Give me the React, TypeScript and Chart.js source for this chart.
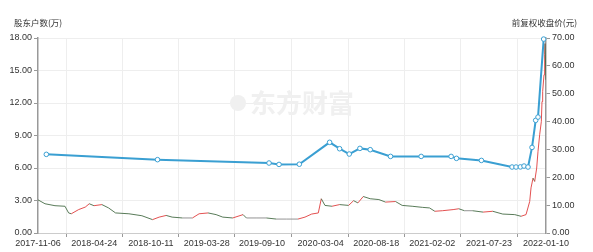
import React, { useEffect, useRef } from "react";
import { Chart, registerables } from "chart.js";
Chart.register(...registerables);

const xLabels = [
  "2017-11-06", "2018-04-24", "2018-10-11", "2019-03-28", "2019-09-10",
  "2020-03-04", "2020-08-18", "2021-02-02", "2021-07-23", "2022-01-10",
];

const holderDates = [
  "2017-12-01", "2018-10-31", "2019-10-01", "2019-10-31", "2019-12-31",
  "2020-03-31", "2020-04-30", "2020-05-29", "2020-06-30", "2020-07-31",
  "2020-09-30", "2020-12-31", "2021-03-31", "2021-04-16", "2021-06-30",
  "2021-09-30", "2021-10-12", "2021-10-25", "2021-11-05", "2021-11-17",
  "2021-11-29", "2021-12-10", "2021-12-17", "2022-01-03",
];
const holderValues = [
  7.26, 6.77, 6.46, 6.33, 6.35,
  8.37, 7.78, 7.29, 7.81, 7.69,
  7.07, 7.07, 7.07, 6.89, 6.7,
  6.09, 6.09, 6.1, 6.18, 6.09,
  7.9, 10.4, 10.7, 17.9,
];

const priceDates = [
  "2017-11-06", "2017-11-27", "2017-12-27", "2018-01-26", "2018-02-06",
  "2018-02-14", "2018-03-08", "2018-03-28", "2018-04-09", "2018-04-23",
  "2018-05-17", "2018-06-06", "2018-06-27", "2018-08-06", "2018-09-14",
  "2018-10-16", "2018-11-05", "2018-11-26", "2018-12-14", "2019-01-14",
  "2019-02-13", "2019-03-05", "2019-04-01", "2019-04-25", "2019-05-15",
  "2019-06-14", "2019-07-15", "2019-07-25", "2019-08-23", "2019-09-23",
  "2019-10-23", "2019-11-22", "2019-12-27", "2020-01-17", "2020-02-06",
  "2020-02-26", "2020-03-06", "2020-03-17", "2020-04-07", "2020-04-30",
  "2020-05-27", "2020-06-11", "2020-06-24", "2020-07-10", "2020-07-31",
  "2020-08-26", "2020-09-15", "2020-10-15", "2020-11-04", "2020-12-04",
  "2021-01-04", "2021-01-25", "2021-02-10", "2021-03-05", "2021-04-06",
  "2021-04-23", "2021-05-10", "2021-06-03", "2021-07-05", "2021-08-03",
  "2021-09-02", "2021-10-08", "2021-10-27", "2021-11-11", "2021-11-22",
  "2021-11-26", "2021-12-02", "2021-12-07", "2021-12-13", "2021-12-17",
  "2021-12-22", "2021-12-27", "2021-12-29", "2021-12-31", "2022-01-04",
  "2022-01-06", "2022-01-07", "2022-01-10",
];
const priceValues = [
  11.9, 10.5, 9.8, 9.6, 7.2,
  6.9, 8.4, 9.3, 10.5, 9.8,
  10.2, 9.0, 7.2, 6.9, 6.2,
  4.8, 5.7, 6.3, 5.7, 5.4,
  5.4, 6.9, 7.2, 6.6, 5.7,
  5.4, 6.6, 5.4, 5.4, 5.4,
  5.0, 5.0, 5.0, 5.7, 6.8,
  7.2, 12.3, 9.9, 9.6, 10.2,
  9.9, 11.6, 10.8, 13.1, 12.3,
  12.0, 11.1, 11.3, 9.9, 9.6,
  9.2, 9.0, 7.8, 8.0, 8.4,
  8.7, 8.0, 8.0, 7.5, 7.8,
  6.8, 6.6, 6.0, 6.6, 11.3,
  16.2, 19.7, 18.5, 23.3, 29.3,
  35.3, 40.0, 47.2, 50.8, 56.8,
  64.0, 68.0, 55.0,
];

const leftTitle = "股东户数(万)";
const rightTitle = "前复权收盘价(元)";
const watermark = "东方财富";

const DAY = 86400000;
const START = Date.parse(xLabels[0]);
const dayOf = (s: string) => Math.round((Date.parse(s) - START) / DAY);
const labelDays = xLabels.map(dayOf);
const FONT = '"Liberation Sans", "Noto Sans CJK SC", sans-serif';

const isLabelDay = (v: number) => labelDays.some((d) => Math.abs(d - v) < 0.01);

export default function App() {
  const ref = useRef<HTMLCanvasElement | null>(null);
  useEffect(() => {
    if (!ref.current) return;
    const overlay = {
      id: "overlay",
      beforeDatasetsDraw(chart: any) {
        const { ctx, chartArea } = chart;
        ctx.save();
        ctx.fillStyle = "#f0f0f0";
        ctx.font = 'bold 26px "Noto Sans CJK SC", sans-serif';
        ctx.textAlign = "left";
        ctx.textBaseline = "middle";
        const cx = chartArea.left + 212;
        ctx.fillText(watermark, cx, 103);
        ctx.beginPath();
        ctx.arc(cx - 12, 103, 8, 0, Math.PI * 2);
        ctx.fill();
        ctx.restore();
      },
      afterDraw(chart: any) {
        const { ctx } = chart;
        ctx.save();
        ctx.fillStyle = "#333";
        ctx.font = '8.5px "Noto Sans CJK SC", sans-serif';
        ctx.textBaseline = "middle";
        ctx.textAlign = "left";
        ctx.fillText(leftTitle, 14, 23);
        ctx.textAlign = "right";
        ctx.fillText(rightTitle, 577, 23);
        ctx.restore();
      },
    };

    const chart = new Chart(ref.current, {
      type: "line",
      data: {
        datasets: [
          {
            label: leftTitle,
            data: holderDates.map((d, i) => ({ x: dayOf(d), y: holderValues[i] })),
            yAxisID: "y",
            borderColor: "#3a9fd2",
            borderWidth: 2,
            pointRadius: 2.3,
            pointBorderWidth: 1,
            pointBackgroundColor: "#ffffff",
            pointBorderColor: "#3a9fd2",
            tension: 0,
            clip: false as any,
            order: 0,
          },
          {
            label: rightTitle,
            data: priceDates.map((d, i) => ({ x: dayOf(d), y: priceValues[i] })),
            yAxisID: "y1",
            borderColor: "#557755",
            borderWidth: 1,
            pointRadius: 0,
            tension: 0,
            order: 1,
            segment: {
              borderColor: (c: any) =>
                c.p1.parsed.y > c.p0.parsed.y
                  ? "rgba(222,50,50,0.85)"
                  : c.p1.parsed.y < c.p0.parsed.y
                  ? "rgba(60,100,60,0.85)"
                  : "rgba(120,120,120,0.8)",
            },
          },
        ],
      },
      options: {
        animation: false,
        responsive: false,
        maintainAspectRatio: false,
        layout: { padding: { top: 38, left: 0, right: 0, bottom: 0 } },
        plugins: { legend: { display: false }, tooltip: { enabled: false } },
        scales: {
          x: {
            type: "linear",
            min: 0,
            max: labelDays[labelDays.length - 1],
            afterBuildTicks: (scale: any) => {
              const t: any[] = [];
              labelDays.forEach((d, i) => {
                t.push({ value: d });
                if (i < labelDays.length - 1) t.push({ value: (d + labelDays[i + 1]) / 2 });
              });
              scale.ticks = t;
            },
            afterFit: (scale: any) => {
              scale.height = 19;
            },
            ticks: {
              autoSkip: false,
              maxRotation: 0,
              minRotation: 0,
              padding: 1,
              color: "#333",
              font: { family: FONT, size: 9 },
              callback: (v: any) => {
                const i = labelDays.findIndex((d) => Math.abs(d - v) < 0.01);
                return i >= 0 ? xLabels[i] : "";
              },
            },
            grid: {
              color: (c: any) => (c.tick && isLabelDay(c.tick.value) ? "rgba(0,0,0,0)" : "#eeeeee"),
              tickColor: (c: any) => (c.tick && isLabelDay(c.tick.value) ? "rgba(0,0,0,0)" : "#999999"),
              tickLength: 4,
              lineWidth: 1,
            },
            border: { display: true, color: "#cccccc", width: 1 },
          },
          y: {
            type: "linear",
            position: "left",
            min: 0,
            max: 18,
            afterFit: (scale: any) => {
              scale.width = 38;
            },
            ticks: {
              stepSize: 3,
              padding: 2,
              color: "#333",
              font: { family: FONT, size: 9 },
              callback: (v: any) => Number(v).toFixed(2),
            },
            grid: { color: "#eeeeee", tickColor: "#999999", tickLength: 4 },
            border: { display: true, color: "#999999", width: 1.5 },
          },
          y1: {
            type: "linear",
            position: "right",
            min: 0,
            max: 70,
            afterFit: (scale: any) => {
              scale.width = 47;
            },
            ticks: {
              stepSize: 10,
              padding: 2,
              color: "#333",
              font: { family: FONT, size: 9 },
              callback: (v: any) => Number(v).toFixed(2),
            },
            grid: { drawOnChartArea: false, tickColor: "#999999", tickLength: 4 },
            border: { display: true, color: "#999999", width: 1.5 },
          },
        },
      } as any,
      plugins: [overlay],
    });
    return () => chart.destroy();
  }, []);

  return (
    <div style={{ position: "fixed", left: 0, top: 0, width: 593, height: 252, background: "#fff" }}>
      <canvas ref={ref} width={593} height={252} style={{ width: 593, height: 252, display: "block" }} />
    </div>
  );
}
